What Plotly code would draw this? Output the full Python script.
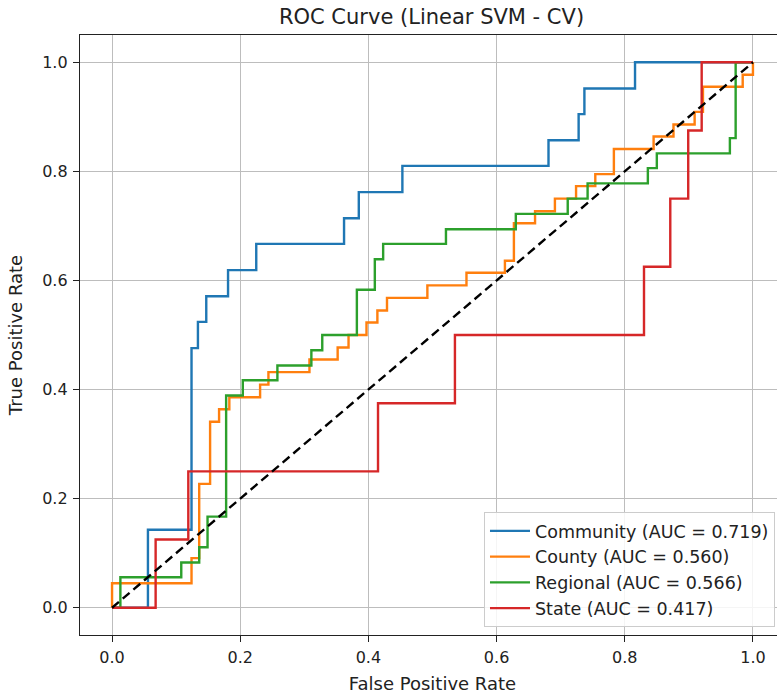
import plotly.graph_objects as go

# ---- data ----
community_fpr = [0.0, 0.056, 0.124, 0.134, 0.147, 0.181, 0.225, 0.362, 0.385, 0.453, 0.681, 0.728, 0.737, 0.816, 1.0]
community_tpr = [0.0, 0.143, 0.476, 0.524, 0.571, 0.619, 0.667, 0.714, 0.762, 0.810, 0.857, 0.905, 0.952, 1.0, 1.0]

county_fpr = [0.0, 0.0, 0.124, 0.136, 0.153, 0.167, 0.183, 0.231, 0.244, 0.308, 0.352, 0.369, 0.397, 0.414,
              0.429, 0.492, 0.553, 0.613, 0.627, 0.660, 0.691, 0.724, 0.754, 0.783, 0.845, 0.876, 0.909,
              0.922, 0.984, 1.0]
county_tpr = [0.0, 0.045, 0.091, 0.227, 0.341, 0.364, 0.386, 0.409, 0.432, 0.455, 0.477, 0.500, 0.523, 0.545,
              0.568, 0.591, 0.614, 0.636, 0.705, 0.727, 0.750, 0.773, 0.795, 0.841, 0.864, 0.886, 0.909,
              0.955, 0.977, 1.0]

regional_fpr = [0.0, 0.013, 0.108, 0.136, 0.149, 0.178, 0.204, 0.258, 0.311, 0.328, 0.382, 0.410, 0.423,
                0.521, 0.630, 0.711, 0.742, 0.836, 0.850, 0.964, 0.973, 1.0]
regional_tpr = [0.0, 0.056, 0.083, 0.111, 0.167, 0.389, 0.417, 0.444, 0.472, 0.500, 0.583, 0.639, 0.667,
                0.694, 0.722, 0.750, 0.778, 0.806, 0.833, 0.861, 1.0, 1.0]

state_fpr = [0.0, 0.068, 0.119, 0.415, 0.535, 0.830, 0.871, 0.899, 0.920, 1.0]
state_tpr = [0.0, 0.125, 0.250, 0.375, 0.500, 0.625, 0.750, 0.875, 1.0, 1.0]

series_names = ["Community", "County", "Regional", "State"]
series_auc = [0.719, 0.560, 0.566, 0.417]
series_colors = ["#1f77b4", "#ff7f0e", "#2ca02c", "#d62728"]

chance_x = [0.0, 1.0]
chance_y = [0.0, 1.0]

tick_vals = [0.0, 0.2, 0.4, 0.6, 0.8, 1.0]
tick_text = ["0.0", "0.2", "0.4", "0.6", "0.8", "1.0"]

FONT = "DejaVu Sans"
TXT = "#222222"

fig = go.Figure()
curves = [(community_fpr, community_tpr), (county_fpr, county_tpr),
          (regional_fpr, regional_tpr), (state_fpr, state_tpr)]
for (fx, ty), name, auc, col in zip(curves, series_names, series_auc, series_colors):
    fig.add_trace(go.Scatter(
        x=fx, y=ty, mode="lines", line=dict(color=col, width=2.4, shape="hv"),
        name=f"{name} (AUC = {auc:.3f})", hoverinfo="skip"))

fig.add_trace(go.Scatter(
    x=chance_x, y=chance_y, mode="lines",
    line=dict(color="black", width=2.4, dash="9px,5px"),
    showlegend=False, hoverinfo="skip"))

axis_common = dict(
    showgrid=True, gridcolor="#bdbdbd", gridwidth=1,
    zeroline=False, showline=True, linecolor="#222222", linewidth=1.3, mirror=True,
    ticks="outside", ticklen=6, tickwidth=1.3, tickcolor="#222222",
    tickvals=tick_vals, ticktext=tick_text, ticklabelstandoff=2,
    tickfont=dict(family=FONT, size=16, color=TXT),
)

# the axes' right edge sits just past the window edge, as in the (cropped) reference
fig.update_layout(
    width=785, height=694,
    margin=dict(l=80, r=0, t=35, b=59),
    paper_bgcolor="white", plot_bgcolor="white",
    title=dict(text="ROC Curve (Linear SVM - CV)", xref="container", x=0.5497, xanchor="center",
               yref="container", y=0.9755, yanchor="middle",
               font=dict(family=FONT, size=21, color=TXT)),
    xaxis=dict(range=[-0.05, 1.05], title=dict(text="False Positive Rate", standoff=11,
               font=dict(family=FONT, size=18, color=TXT)), automargin=False, **axis_common),
    yaxis=dict(range=[-0.05, 1.05], title=dict(text="True Positive Rate", standoff=14,
               font=dict(family=FONT, size=18, color=TXT)), automargin=False, **axis_common),
    legend=dict(x=0.9858, y=0.0133, xanchor="right", yanchor="bottom",
                bgcolor="rgba(255,255,255,0.85)", bordercolor="#cccccc", borderwidth=1,
                font=dict(family=FONT, size=17.5, color=TXT), itemwidth=40),
    showlegend=True,
)

# remove the default page margin so the figure sits at the window's top-left corner
page_fix = ("document.body.style.margin='0';document.body.style.overflow='hidden';"
            "document.documentElement.style.overflow='hidden';")
fig.write_html("out.html", post_script=page_fix, config={"displayModeBar": False})
